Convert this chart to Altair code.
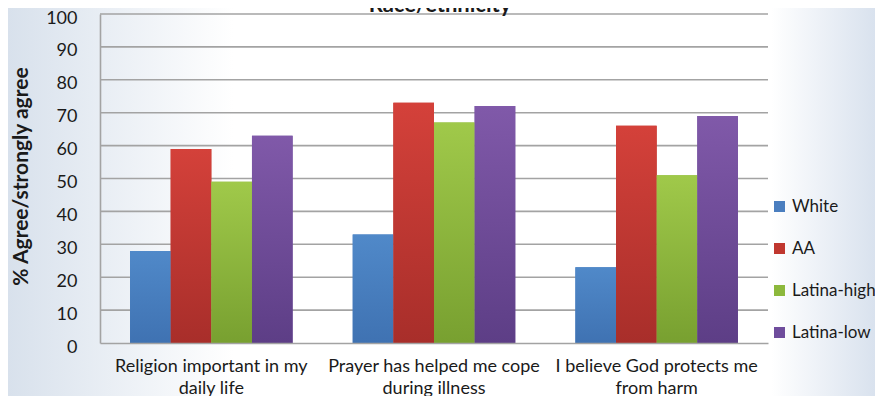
import altair as alt
import pandas as pd

categories = [
    "Religion important in my\ndaily life",
    "Prayer has helped me cope\nduring illness",
    "I believe God protects me\nfrom harm",
]
series = ["White", "AA", "Latina-high", "Latina-low"]
white = [28, 33, 23]
aa = [59, 73, 66]
latina_high = [49, 67, 51]
latina_low = [63, 72, 69]
y_ticks = [0, 10, 20, 30, 40, 50, 60, 70, 80, 90, 100]
title_text = "Race/ethnicity"

solid_colors = ["#4a7ebf", "#c0372f", "#8cb83c", "#6e4c9c"]
grad_colors = {
    "White": ("#5089c9", "#3f72b2"),
    "AA": ("#d4413a", "#a82e2a"),
    "Latina-high": ("#a0c94a", "#78a030"),
    "Latina-low": ("#8059a9", "#5d3e86"),
}

rows = []
for s, vals in zip(series, [white, aa, latina_high, latina_low]):
    for c, v in zip(categories, vals):
        rows.append({"category": c, "series": s, "value": v})
df = pd.DataFrame(rows)
grid_df = pd.DataFrame({"value": y_ticks[1:]})
one_df = pd.DataFrame({"t": [title_text]})

FONT = "Lato"
W, H = 668, 329
PT = 6
PR = 107
PB = 53


def vgrad(top, bottom):
    return {
        "gradient": "linear",
        "x1": 0, "y1": 0, "x2": 0, "y2": 1,
        "stops": [{"offset": 0, "color": top}, {"offset": 1, "color": bottom}],
    }


bg = alt.Chart(one_df).mark_rect(
    fill={
        "gradient": "linear",
        "x1": 0, "y1": 0, "x2": 1, "y2": 0,
        "stops": [
            {"offset": 0, "color": "#d8e1ec"},
            {"offset": 0.26, "color": "#ffffff"},
            {"offset": 0.88, "color": "#ffffff"},
            {"offset": 1, "color": "#d9e2ee"},
        ],
    }
).encode(
    x=alt.value(-92), x2=alt.value(W + PR), y=alt.value(-PT), y2=alt.value(H + PB)
)

y_scale = alt.Scale(domain=[0, 100], nice=False)
y_axis = alt.Axis(
    values=y_ticks,
    grid=False,
    ticks=False,
    labelFont=FONT,
    labelFontSize=18,
    labelColor="#1a1a1a",
    labelPadding=23,
    labelOffset=4,
    domainColor="#a3a3a3",
    domainWidth=1.6,
    title="% Agree/strongly agree",
    titleFont=FONT,
    titleFontSize=21,
    titleFontWeight="bold",
    titleColor="#1a1a1a",
    titlePadding=14,
    titleY=162,
    zindex=1,
)
x_axis = alt.Axis(
    title=None,
    labelAngle=0,
    labelExpr="split(datum.label, '\\n')",
    labelFont=FONT,
    labelFontSize=18,
    labelColor="#1a1a1a",
    labelLineHeight=22,
    labelPadding=14,
    labelLimit=400,
    ticks=False,
    domainColor="#a3a3a3",
    domainWidth=1.6,
    zindex=1,
)

y_enc = alt.Y("value:Q", scale=y_scale, axis=y_axis)

grid = alt.Chart(grid_df).mark_rule(color="#a3a3a3", strokeWidth=1.6).encode(
    y=y_enc,
    x=alt.value(0),
    x2=alt.value(W),
)

x_enc = alt.X(
    "category:N",
    sort=categories,
    scale=alt.Scale(paddingInner=0.27, paddingOuter=0.135),
    axis=x_axis,
)
xoff = alt.XOffset("series:N", sort=series, scale=alt.Scale(paddingInner=0))

bars_solid = alt.Chart(df).mark_bar().encode(
    x=x_enc,
    xOffset=xoff,
    y=y_enc,
    color=alt.Color(
        "series:N",
        sort=series,
        scale=alt.Scale(domain=series, range=solid_colors),
        legend=alt.Legend(
            title=None,
            orient="none",
            legendX=W + 3,
            legendY=184,
            symbolType="square",
            symbolSize=121,
            symbolStrokeWidth=0,
            labelFont=FONT,
            labelFontSize=17,
            labelColor="#1a1a1a",
            labelOffset=4,
            labelLimit=200,
            rowPadding=24,
        ),
    ),
)

fill_def = {
    "condition": [
        {"test": f"datum.series === '{s}'", "value": vgrad(*grad_colors[s])}
        for s in series
    ],
    "value": "#888888",
}

bars_grad = alt.Chart(df).mark_bar().encode(
    x=x_enc,
    xOffset=xoff,
    y=y_enc,
    fill=fill_def,
)

title = alt.Chart(one_df).mark_text(
    font=FONT, fontSize=22, fontWeight="bold", color="#1a1a1a", baseline="alphabetic"
).encode(text="t:N", x=alt.value(W / 2 + 6), y=alt.value(-2))

chart = alt.layer(bg, grid, bars_solid, bars_grad, title).properties(
    width=W,
    height=H,
    padding={"left": 92, "top": PT, "right": PR, "bottom": PB},
    autosize=alt.AutoSizeParams(type="none"),
    background="#ffffff",
).configure_view(stroke=None)

chart.save("out.html", embed_options={"renderer": "svg", "actions": False})
